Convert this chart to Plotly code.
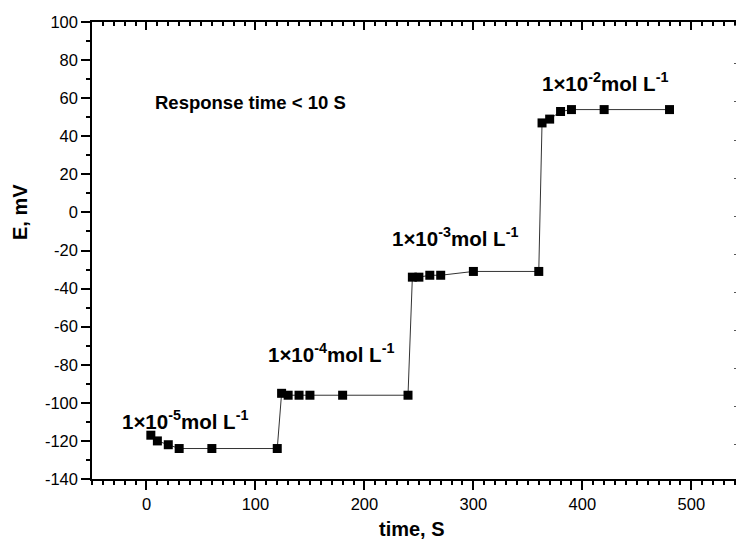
import plotly.graph_objects as go

time_s = [4, 10, 20, 30, 60, 120,
          124, 130, 140, 150, 180, 240,
          244, 250, 260, 270, 300, 360,
          363, 370, 380, 390, 420, 480]
e_mv = [-117, -120, -122, -124, -124, -124,
        -95, -96, -96, -96, -96, -96,
        -34, -34, -33, -33, -31, -31,
        47, 49, 53, 54, 54, 54]

labels = ["1×10<sup>-5</sup>mol L<sup>-1</sup>",
          "1×10<sup>-4</sup>mol L<sup>-1</sup>",
          "1×10<sup>-3</sup>mol L<sup>-1</sup>",
          "1×10<sup>-2</sup>mol L<sup>-1</sup>",
          "Response time < 10 S"]
label_x = [35, 169, 283, 421, 95]
label_y = [-109, -74, -13, 68.5, 57.6]
label_size = [20.5, 20.5, 20.5, 20.5, 18.5]

x_ticks = [0, 100, 200, 300, 400, 500]
y_ticks = [-140, -120, -100, -80, -60, -40, -20, 0, 20, 40, 60, 80, 100]
y_ticktext = [str(v) for v in y_ticks]

x_range = [-50, 541]
y_range = [-140, 100]

FONT = "Liberation Sans, Arial, sans-serif"

fig = go.Figure()
fig.add_trace(go.Scatter(
    x=time_s, y=e_mv, mode="lines+markers",
    line=dict(color="#333333", width=1),
    marker=dict(symbol="square", size=9, color="black"),
    showlegend=False, hoverinfo="x+y"))
# invisible trace to carry the top/right axes
fig.add_trace(go.Scatter(x=[x_range[0]], y=[y_range[0]], xaxis="x2", yaxis="y2",
                         mode="markers", marker=dict(opacity=0), showlegend=False,
                         hoverinfo="skip"))

for t, xx, yy, sz in zip(labels, label_x, label_y, label_size):
    fig.add_annotation(x=xx, y=yy, text="<b>" + t + "</b>", showarrow=False,
                       font=dict(family=FONT, size=sz, color="black"),
                       xanchor="center", yanchor="middle")

# axis titles
fig.add_annotation(xref="paper", yref="paper", x=(412 - 92) / 644, y=(544 - 65 - 529) / 457,
                   text="<b>time, S</b>", showarrow=False, xanchor="center", yanchor="middle",
                   font=dict(family=FONT, size=20, color="black"))
fig.add_annotation(xref="paper", yref="paper", x=(20 - 92) / 644, y=(479 - 212) / 457,
                   text="<b>E, mV</b>", showarrow=False, xanchor="center", yanchor="middle",
                   textangle=-90, font=dict(family=FONT, size=20, color="black"))

axis_common = dict(showgrid=False, zeroline=False, linecolor="black", linewidth=1.5,
                   tickcolor="black", tickwidth=1.5)

fig.update_layout(
    width=736, height=544,
    margin=dict(l=92, r=0, t=22, b=65),
    paper_bgcolor="white", plot_bgcolor="white",
    font=dict(family=FONT, size=16.5, color="black"),
    xaxis=dict(range=x_range, tickvals=x_ticks,
               ticks="outside", ticklen=9, showline=True,
               minor=dict(dtick=10, tick0=0, ticks="outside", ticklen=4,
                          tickcolor="black", tickwidth=1.5),
               **axis_common),
    yaxis=dict(range=y_range, tickvals=y_ticks, ticktext=y_ticktext,
               ticks="outside", ticklen=9, showline=True,
               minor=dict(dtick=10, tick0=0, ticks="outside", ticklen=4,
                          tickcolor="black", tickwidth=1.5),
               **axis_common),
    xaxis2=dict(range=x_range, overlaying="x", side="top", showline=True,
                tickvals=x_ticks, ticks="inside", ticklen=8,
                showticklabels=False,
                minor=dict(dtick=10, tick0=0, ticks="inside", ticklen=4,
                           tickcolor="black", tickwidth=1.5),
                **axis_common),
    yaxis2=dict(range=y_range, overlaying="y", side="right", showline=False,
                showticklabels=False, ticks="", dtick=20,
                minor=dict(dtick=20, tick0=-2, ticks="inside", ticklen=2,
                           tickcolor="#555555", tickwidth=1),
                showgrid=False, zeroline=False),
)

fig.write_html("out.html")
